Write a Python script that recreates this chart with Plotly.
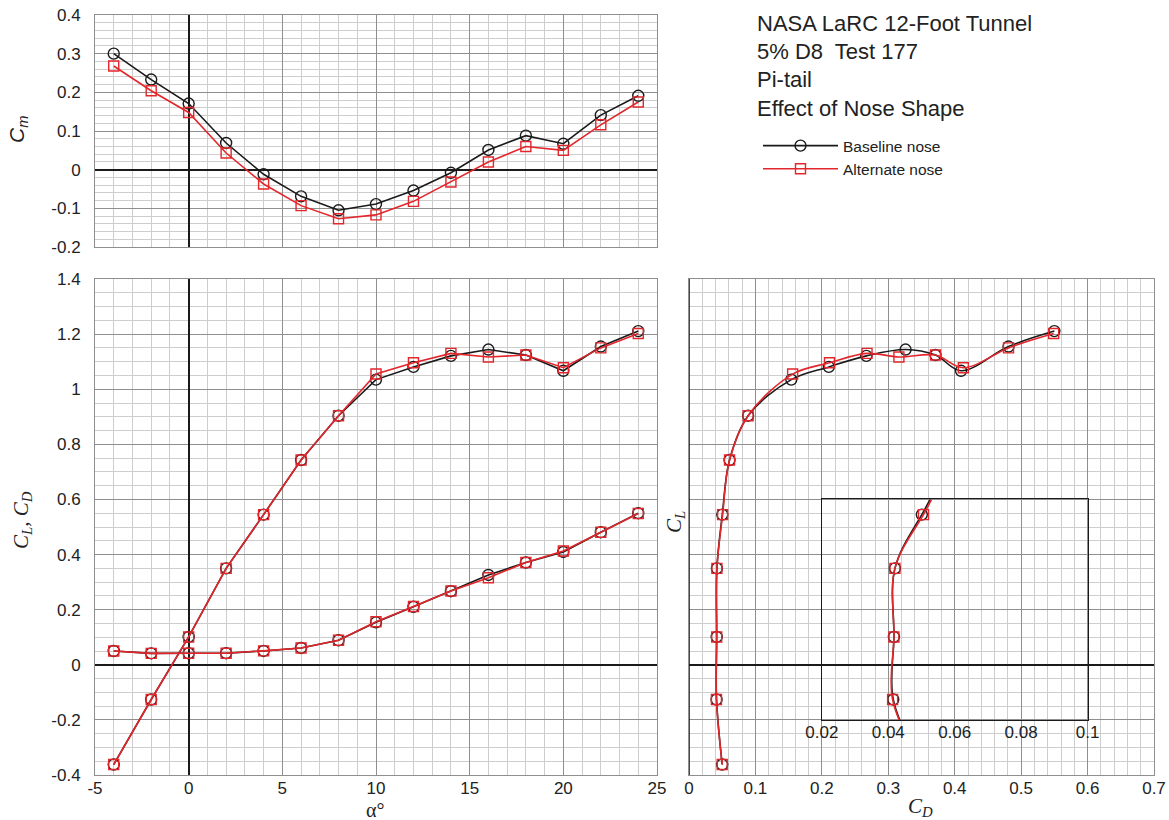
import plotly.graph_objects as go

# ---- wind-tunnel data (5% D8, Test 177, Pi-tail) ----
alpha = [-4, -2, 0, 2, 4, 6, 8, 10, 12, 14, 16, 18, 20, 22, 24]

cm_base = [0.300, 0.233, 0.171, 0.069, -0.012, -0.069, -0.105, -0.089,
           -0.054, -0.008, 0.051, 0.088, 0.067, 0.141, 0.191]
cm_alt = [0.268, 0.204, 0.148, 0.043, -0.037, -0.093, -0.127, -0.117,
          -0.082, -0.032, 0.020, 0.060, 0.050, 0.116, 0.175]

cl_base = [-0.362, -0.126, 0.101, 0.350, 0.545, 0.743, 0.904, 1.035,
           1.081, 1.121, 1.144, 1.124, 1.067, 1.155, 1.211]
cl_alt = [-0.362, -0.126, 0.101, 0.350, 0.545, 0.743, 0.904, 1.055,
          1.096, 1.130, 1.117, 1.124, 1.078, 1.150, 1.202]

cd_base = [0.0500, 0.0415, 0.0417, 0.0420, 0.0501, 0.061, 0.089, 0.154,
           0.2105, 0.267, 0.326, 0.371, 0.4095, 0.481, 0.550]
cd_alt = [0.0500, 0.0413, 0.0417, 0.0420, 0.0506, 0.061, 0.089, 0.156,
          0.2115, 0.268, 0.316, 0.371, 0.413, 0.481, 0.549]

series_names = ["Baseline nose", "Alternate nose"]

# tick labels
alpha_ticks = [-5, 0, 5, 10, 15, 20, 25]
alpha_ticktext = ["-5", "0", "5", "10", "15", "20", "25"]
cm_ticks = [-0.2, -0.1, 0, 0.1, 0.2, 0.3, 0.4]
cm_ticktext = ["-0.2", "-0.1", "0", "0.1", "0.2", "0.3", "0.4"]
cl_ticks = [-0.4, -0.2, 0, 0.2, 0.4, 0.6, 0.8, 1.0, 1.2, 1.4]
cl_ticktext = ["-0.4", "-0.2", "0", "0.2", "0.4", "0.6", "0.8", "1", "1.2", "1.4"]
cd_ticks = [0, 0.1, 0.2, 0.3, 0.4, 0.5, 0.6, 0.7]
cd_ticktext = ["0", "0.1", "0.2", "0.3", "0.4", "0.5", "0.6", "0.7"]
inset_ticks = [0.02, 0.04, 0.06, 0.08, 0.1]
inset_ticktext = ["0.02", "0.04", "0.06", "0.08", "0.1"]

title_lines = ["NASA LaRC 12-Foot Tunnel", "5% D8  Test 177", "Pi-tail",
               "Effect of Nose Shape"]

# ---- styling ----
W, H = 1169, 820
BLACK = "#1a1a1a"
RED = "#e3262b"
MAJOR = "#8f8f8f"
MINOR = "#cdcdcd"
SANS = "Liberation Sans, Arial, sans-serif"
SERIF = "Liberation Serif, Times New Roman, serif"
TICKFONT = dict(family=SANS, size=17, color="#222222")


def px_x(p):
    return p / W


def px_y(p):
    return 1 - p / H


# panel domains (pixel edges)
top_x = [px_x(95), px_x(657)]
top_y = [px_y(247), px_y(15)]
bl_x = top_x
bot_y = [px_y(775), px_y(279)]
br_x = [px_x(689), px_x(1154)]

CD_RANGE = [0, 0.7]
CL_RANGE = [-0.4, 1.4]
INSET_CD = [0.02, 0.1]      # inset x values, drawn over main CD 0.2..0.6
INSET_BOX_CD = [0.2, 0.6]
INSET_CL = [-0.2, 0.6]


def sub_domain(dom, rng, lo, hi):
    span = dom[1] - dom[0]
    return [dom[0] + (lo - rng[0]) / (rng[1] - rng[0]) * span,
            dom[0] + (hi - rng[0]) / (rng[1] - rng[0]) * span]


inset_x = sub_domain(br_x, CD_RANGE, *INSET_BOX_CD)
inset_y = sub_domain(bot_y, CL_RANGE, *INSET_CL)


def grid_axis(domain, rng, dtick_minor, tickvals=None, ticktext=None,
              show_labels=True, **extra):
    ax = dict(
        domain=domain, range=rng, showline=True, mirror=True,
        linecolor=MAJOR, linewidth=1, showgrid=True, gridcolor=MAJOR,
        gridwidth=1, zeroline=True, zerolinecolor=BLACK, zerolinewidth=1.6,
        ticks="", tickfont=TICKFONT, showticklabels=show_labels,
        minor=dict(showgrid=True, gridcolor=MINOR, gridwidth=1,
                   tick0=0, dtick=dtick_minor),
        fixedrange=True, automargin=False,
    )
    if tickvals is not None:
        ax.update(tickmode="array", tickvals=tickvals, ticktext=ticktext)
    ax.update(extra)
    return ax


fig = go.Figure()

styles = [
    dict(color=BLACK, symbol="circle-open", size=11),
    dict(color=RED, symbol="square-open", size=10),
]


def add_pair(xs, ys, xa, ya, legend=False, shape="linear"):
    for i, (x, y) in enumerate(zip(xs, ys)):
        st = styles[i]
        fig.add_trace(go.Scatter(
            x=x, y=y, xaxis=xa, yaxis=ya, mode="lines+markers",
            name=series_names[i], showlegend=legend,
            line=dict(color=st["color"], width=1.6, shape=shape),
            marker=dict(symbol=st["symbol"], size=st["size"],
                        color=st["color"],
                        line=dict(color=st["color"], width=1.4)),
        ))


# pitching moment vs alpha
add_pair([alpha, alpha], [cm_base, cm_alt], "x", "y", legend=True)
# lift and drag vs alpha
add_pair([alpha, alpha], [cl_base, cl_alt], "x2", "y2")
add_pair([alpha, alpha], [cd_base, cd_alt], "x2", "y2")
# drag polar
add_pair([cd_base, cd_alt], [cl_base, cl_alt], "x3", "y3", shape="spline")
# enlarged low-drag region of the polar
add_pair([cd_base, cd_alt], [cl_base, cl_alt], "x4", "y4", shape="spline")

fig.update_layout(
    width=W, height=H, autosize=False,
    margin=dict(l=0, r=0, t=0, b=0, autoexpand=False),
    paper_bgcolor="white", plot_bgcolor="rgba(0,0,0,0)",
    xaxis=grid_axis(top_x, [-5, 25], 1, alpha_ticks, alpha_ticktext,
                    show_labels=False, anchor="y"),
    yaxis=grid_axis(top_y, [-0.2, 0.4], 0.02, cm_ticks, cm_ticktext,
                    anchor="x", ticklabelstandoff=10),
    xaxis2=grid_axis(bl_x, [-5, 25], 1, alpha_ticks, alpha_ticktext,
                     anchor="y2", ticklabelstandoff=-2),
    yaxis2=grid_axis(bot_y, CL_RANGE, 0.05, cl_ticks, cl_ticktext,
                     anchor="x2", ticklabelstandoff=10),
    xaxis3=grid_axis(br_x, CD_RANGE, 0.02, cd_ticks, cd_ticktext,
                     anchor="y3", ticklabelstandoff=-2),
    yaxis3=grid_axis(bot_y, CL_RANGE, 0.05, cl_ticks, cl_ticktext,
                     show_labels=False, anchor="x3"),
    xaxis4=dict(domain=inset_x, range=INSET_CD, anchor="y4",
                showline=True, mirror=True, linecolor=BLACK, linewidth=1,
                showgrid=False, zeroline=False, ticks="",
                tickmode="array", tickvals=inset_ticks,
                ticktext=inset_ticktext, tickfont=TICKFONT,
                ticklabelstandoff=-3, fixedrange=True, automargin=False),
    yaxis4=dict(domain=inset_y, range=INSET_CL, anchor="x4",
                showline=True, mirror=True, linecolor=BLACK, linewidth=1,
                showgrid=False, zeroline=False, showticklabels=False,
                ticks="", fixedrange=True, automargin=False),
    legend=dict(x=px_x(758), y=px_y(129), xanchor="left", yanchor="top",
                bgcolor="rgba(0,0,0,0)", itemwidth=75, tracegroupgap=0,
                font=dict(family=SANS, size=15.5, color="#222222")),
    showlegend=True,
)

# black axis line at CD = 0 on the polar panel
fig.add_shape(type="line", xref="x3", yref="y3", x0=0, x1=0,
              y0=CL_RANGE[0], y1=CL_RANGE[1],
              line=dict(color=BLACK, width=1.6))

# header text block
for i, line in enumerate(title_lines):
    fig.add_annotation(text=line, xref="paper", yref="paper",
                       x=px_x(755), y=px_y(23 + 28.5 * i),
                       xanchor="left", yanchor="middle", showarrow=False,
                       font=dict(family=SANS, size=22, color="#222222"))

# axis titles
axis_titles = [
    ("<i>C<sub>m</sub></i>", 18, 130, -90, SANS, 21),
    ("<i>C<sub>L</sub>, C<sub>D</sub></i>", 22, 520, -90, SERIF, 21),
    ("α°", 375, 810, 0, SERIF, 20),
    ("<i>C<sub>D</sub></i>", 920, 807, 0, SERIF, 21),
    ("<i>C<sub>L</sub></i>", 675, 522, -90, SERIF, 21),
]
for text, x, y, ang, fam, size in axis_titles:
    fig.add_annotation(text=text, xref="paper", yref="paper",
                       x=px_x(x), y=px_y(y), xanchor="center",
                       yanchor="middle", textangle=ang, showarrow=False,
                       borderpad=0,
                       font=dict(family=fam, size=size, color="#222222"))

fig.write_html("out.html")
